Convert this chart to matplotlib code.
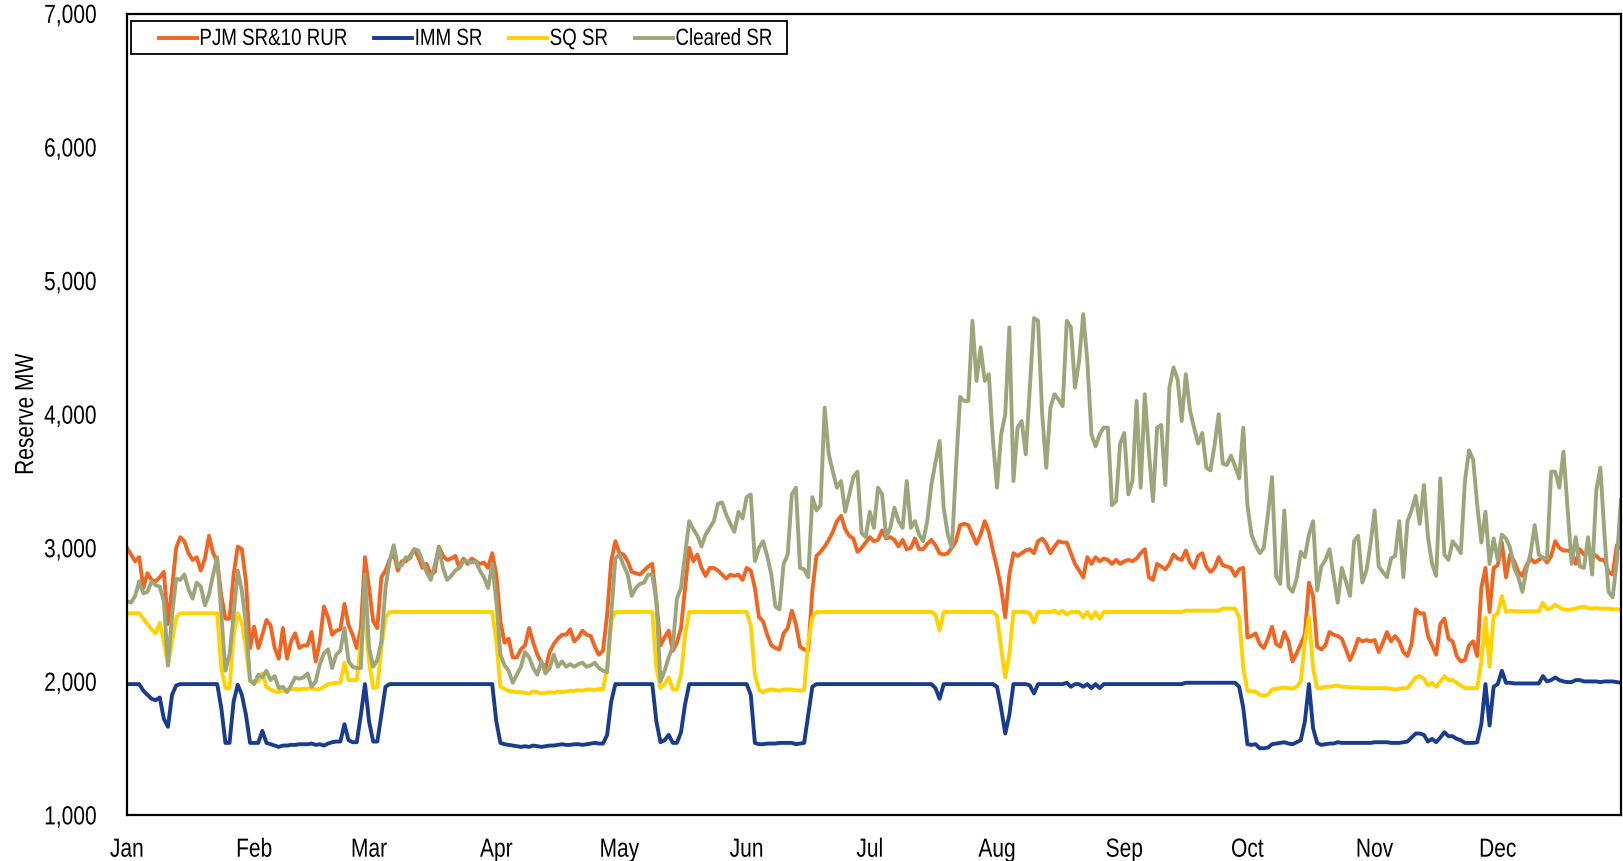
import numpy as np
import matplotlib
matplotlib.use("Agg")
import matplotlib.pyplot as plt
from matplotlib.patheffects import AbstractPathEffect
from matplotlib.transforms import Affine2D
from matplotlib.patches import Rectangle

plt.rcParams["font.family"] = ["Liberation Sans", "DejaVu Sans"]

# daily values, Jan 1 .. Dec 31 (one row per month)
pjm_sr_10_rur = [
    3000, 2950, 2900, 2930, 2700, 2810, 2760, 2750, 2780, 2820, 2430, 2700, 3000, 3080, 3050, 2960, 2910, 2930, 2830, 2920, 3090, 2960, 2900, 2640, 2470, 2470, 2800, 3010, 2990, 2750, 2250,
    2410, 2250, 2350, 2460, 2420, 2250, 2170, 2400, 2170, 2300, 2360, 2250, 2270, 2270, 2370, 2150, 2300, 2560, 2480, 2350, 2380, 2390, 2580, 2420, 2350, 2250, 2400, 2930,
    2700, 2450, 2400, 2780, 2830, 2910, 2960, 2830, 2900, 2900, 2940, 2990, 2930, 2850, 2880, 2800, 2820, 3010, 2940, 2910, 2920, 2940, 2850, 2920, 2880, 2920, 2900, 2880, 2890, 2850, 2960,
    2800, 2450, 2290, 2320, 2180, 2180, 2240, 2270, 2400, 2290, 2200, 2140, 2100, 2220, 2280, 2320, 2350, 2350, 2390, 2300, 2330, 2380, 2350, 2340, 2260, 2200, 2230, 2500, 2900, 3050,
    2960, 2950, 2900, 2820, 2810, 2800, 2830, 2860, 2880, 2600, 2270, 2330, 2380, 2230, 2290, 2400, 2700, 3000, 2900, 2950, 2850, 2790, 2850, 2850, 2830, 2800, 2770, 2800, 2790, 2800, 2760,
    2850, 2830, 2700, 2480, 2450, 2350, 2270, 2250, 2240, 2360, 2400, 2530, 2430, 2260, 2240, 2230, 2680, 2940, 2970, 3010, 3060, 3120, 3200, 3240, 3140, 3090, 3070, 2970, 3000, 3040,
    3080, 3050, 3060, 3130, 3070, 3080, 3060, 3010, 3060, 2990, 3000, 3070, 2990, 2990, 3030, 3060, 3020, 2960, 2950, 2960, 3000, 3050, 3170, 3180, 3170, 3100, 3030, 3100, 3200, 3120, 2980,
    2850, 2700, 2480, 2800, 2960, 2940, 2960, 2980, 2990, 2960, 3050, 3070, 3030, 2960, 3010, 3050, 3040, 3040, 2960, 2880, 2830, 2780, 2930, 2880, 2930, 2900, 2920, 2910, 2880, 2910, 2880,
    2900, 2910, 2900, 2920, 2960, 2990, 2780, 2760, 2880, 2860, 2840, 2880, 2950, 2920, 2910, 2980, 2890, 2850, 2940, 2960, 2860, 2820, 2850, 2930, 2870, 2860, 2850, 2790, 2840, 2850,
    2330, 2340, 2360, 2280, 2250, 2320, 2410, 2280, 2260, 2370, 2300, 2150, 2210, 2280, 2350, 2740, 2640, 2260, 2240, 2270, 2370, 2350, 2340, 2320, 2240, 2160, 2230, 2320, 2300, 2310, 2300,
    2310, 2220, 2290, 2370, 2300, 2340, 2300, 2220, 2190, 2280, 2540, 2510, 2510, 2340, 2270, 2200, 2430, 2470, 2320, 2300, 2190, 2150, 2160, 2270, 2300, 2190, 2700, 2850, 2520, 2850,
    2870, 3040, 2780, 2950, 2900, 2820, 2790, 2870, 2920, 2890, 2910, 2930, 2890, 2940, 3050, 3000, 2980, 2980, 2970, 2880, 2990, 2950, 2970, 2960, 2940, 2910, 2910, 2820, 2800, 3020, 3000,
]

imm_sr = [
    1980, 1980, 1980, 1980, 1930, 1900, 1870, 1860, 1880, 1720, 1660, 1900, 1970, 1980, 1980, 1980, 1980, 1980, 1980, 1980, 1980, 1980, 1980, 1800, 1540, 1540, 1850, 1975, 1900, 1750, 1540,
    1540, 1540, 1630, 1540, 1530, 1520, 1510, 1520, 1520, 1525, 1525, 1530, 1530, 1530, 1535, 1525, 1530, 1520, 1535, 1545, 1550, 1550, 1680, 1560, 1545, 1545, 1750, 1980,
    1700, 1550, 1550, 1750, 1960, 1980, 1980, 1980, 1980, 1980, 1980, 1980, 1980, 1980, 1980, 1980, 1980, 1980, 1980, 1980, 1980, 1980, 1980, 1980, 1980, 1980, 1980, 1980, 1980, 1980, 1980,
    1700, 1540, 1530, 1525, 1520, 1515, 1510, 1515, 1510, 1520, 1515, 1510, 1515, 1520, 1520, 1525, 1530, 1525, 1525, 1530, 1530, 1525, 1530, 1535, 1540, 1535, 1535, 1600, 1850, 1980,
    1980, 1980, 1980, 1980, 1980, 1980, 1980, 1980, 1980, 1700, 1545, 1560, 1600, 1540, 1540, 1620, 1830, 1980, 1980, 1980, 1980, 1980, 1980, 1980, 1980, 1980, 1980, 1980, 1980, 1980, 1980,
    1980, 1900, 1540, 1530, 1530, 1535, 1535, 1535, 1540, 1540, 1540, 1540, 1530, 1535, 1540, 1750, 1960, 1980, 1980, 1980, 1980, 1980, 1980, 1980, 1980, 1980, 1980, 1980, 1980, 1980,
    1980, 1980, 1980, 1980, 1980, 1980, 1980, 1980, 1980, 1980, 1980, 1980, 1980, 1980, 1980, 1980, 1950, 1870, 1980, 1980, 1980, 1980, 1980, 1980, 1980, 1980, 1980, 1980, 1980, 1980, 1980,
    1960, 1800, 1610, 1750, 1980, 1980, 1980, 1980, 1970, 1910, 1980, 1980, 1980, 1980, 1980, 1980, 1980, 1990, 1960, 1980, 1980, 1960, 1980, 1950, 1980, 1950, 1980, 1980, 1980, 1980, 1980,
    1980, 1980, 1980, 1980, 1980, 1980, 1980, 1980, 1980, 1980, 1980, 1980, 1980, 1980, 1980, 1990, 1990, 1990, 1990, 1990, 1990, 1990, 1990, 1990, 1990, 1990, 1990, 1990, 1960, 1800,
    1530, 1525, 1530, 1500, 1500, 1505, 1530, 1535, 1540, 1545, 1535, 1530, 1545, 1560, 1700, 1980, 1650, 1540, 1525, 1530, 1535, 1535, 1545, 1540, 1540, 1540, 1540, 1540, 1540, 1540, 1540,
    1545, 1545, 1545, 1545, 1540, 1540, 1540, 1545, 1550, 1580, 1610, 1610, 1600, 1550, 1570, 1545, 1580, 1620, 1590, 1590, 1570, 1560, 1540, 1540, 1540, 1545, 1680, 1980, 1670, 1960,
    1980, 2080, 1990, 1990, 1985, 1985, 1985, 1985, 1985, 1985, 1985, 2040, 2000, 2010, 2030, 2010, 2000, 1995, 1995, 2010, 2010, 2000, 2000, 2000, 2000, 1995, 2000, 2000, 2000, 1995, 1990,
]

sq_sr = [
    2510, 2510, 2510, 2510, 2470, 2430, 2390, 2360, 2440, 2300, 2120, 2300, 2480, 2510, 2510, 2510, 2510, 2510, 2510, 2510, 2510, 2510, 2510, 2100, 1950, 1950, 2350, 2510, 2440, 2250, 2000,
    2000, 2000, 2060, 1960, 1940, 1925, 1920, 1930, 1935, 1940, 1945, 1940, 1945, 1945, 1950, 1940, 1945, 1960, 1980, 1985, 1990, 1990, 2140, 2010, 2010, 2010, 2300, 2510,
    2150, 1950, 1960, 2250, 2480, 2520, 2520, 2520, 2520, 2520, 2520, 2520, 2520, 2520, 2520, 2520, 2520, 2520, 2520, 2520, 2520, 2520, 2520, 2520, 2520, 2520, 2520, 2520, 2520, 2520, 2520,
    2300, 1960, 1945, 1930, 1925, 1920, 1920, 1915, 1910, 1925, 1920, 1910, 1915, 1920, 1915, 1925, 1920, 1925, 1930, 1930, 1935, 1930, 1940, 1940, 1935, 1945, 1940, 2100, 2450, 2520,
    2520, 2520, 2520, 2520, 2520, 2520, 2520, 2520, 2520, 2100, 1950, 1980, 2030, 1940, 1940, 2050, 2350, 2520, 2520, 2520, 2520, 2520, 2520, 2520, 2520, 2520, 2520, 2520, 2520, 2520, 2520,
    2520, 2420, 2050, 1940, 1920, 1935, 1940, 1935, 1930, 1940, 1940, 1940, 1935, 1930, 1935, 2300, 2480, 2520, 2520, 2520, 2520, 2520, 2520, 2520, 2520, 2520, 2520, 2520, 2520, 2520,
    2520, 2520, 2520, 2520, 2520, 2520, 2520, 2520, 2520, 2520, 2520, 2520, 2520, 2520, 2520, 2520, 2500, 2380, 2520, 2520, 2520, 2520, 2520, 2520, 2520, 2520, 2520, 2520, 2520, 2520, 2520,
    2490, 2250, 2030, 2200, 2520, 2520, 2520, 2520, 2510, 2440, 2520, 2520, 2520, 2520, 2530, 2510, 2530, 2500, 2520, 2520, 2520, 2480, 2520, 2470, 2520, 2470, 2520, 2520, 2520, 2520, 2520,
    2520, 2520, 2520, 2520, 2520, 2520, 2520, 2520, 2520, 2520, 2520, 2520, 2520, 2520, 2520, 2530, 2530, 2530, 2530, 2530, 2530, 2530, 2530, 2530, 2545, 2545, 2545, 2545, 2480, 2100,
    1930, 1925, 1925, 1900, 1895, 1900, 1940, 1945, 1950, 1955, 1950, 1945, 1960, 2000, 2300, 2480, 2100, 1950, 1950, 1960, 1960, 1965, 1970, 1960, 1960, 1955, 1955, 1955, 1950, 1950, 1950,
    1950, 1950, 1950, 1950, 1945, 1940, 1945, 1950, 1950, 1990, 2030, 2040, 2020, 1970, 1990, 1960, 2000, 2040, 2010, 2010, 1990, 1970, 1950, 1950, 1950, 1950, 2150, 2480, 2110, 2490,
    2510, 2640, 2520, 2530, 2525, 2525, 2525, 2525, 2525, 2525, 2525, 2590, 2540, 2550, 2575, 2555, 2540, 2535, 2540, 2545, 2555, 2560, 2550, 2545, 2550, 2545, 2545, 2545, 2540, 2540, 2535,
]

cleared_sr = [
    2600, 2590, 2640, 2750, 2660, 2670, 2750, 2720, 2710, 2600, 2120, 2500, 2770, 2760, 2800, 2690, 2620, 2740, 2710, 2570, 2650, 2800, 2930, 2500, 2080, 2200, 2500, 2830, 2680, 2430, 2010,
    1980, 2050, 2030, 2080, 2010, 2040, 1950, 1960, 1920, 1970, 2030, 2020, 2030, 2060, 1960, 2000, 2130, 2210, 2240, 2100, 2200, 2230, 2400, 2150, 2110, 2100, 2100, 2800,
    2250, 2110, 2160, 2300, 2700, 2900, 3020, 2860, 2870, 2930, 2920, 2990, 2980, 2900, 2820, 2760, 2870, 3000, 2850, 2760, 2790, 2830, 2850, 2900, 2900, 2890, 2900, 2830, 2780, 2700, 2880,
    2600, 2200, 2120, 2080, 1990, 2050, 2110, 2220, 2180, 2100, 2050, 2150, 2060, 2100, 2200, 2110, 2150, 2110, 2130, 2110, 2130, 2140, 2110, 2120, 2140, 2100, 2080, 2070, 2500, 2920,
    2950, 2870, 2800, 2640, 2700, 2730, 2740, 2800, 2800, 2600, 2000, 2080, 2180, 2260, 2620, 2700, 2950, 3200, 3140, 3090, 3010, 3100, 3150, 3200, 3330, 3340, 3250, 3180, 3120, 3270, 3220,
    3380, 3400, 2900, 3000, 3050, 2940, 2800, 2560, 2540, 2880, 2950, 3400, 3450, 2850, 2840, 2780, 3380, 3280, 3320, 4050, 3700, 3570, 3450, 3500, 3270, 3400, 3530, 3570, 3110, 3080,
    3270, 3150, 3450, 3400, 3080, 3150, 3300, 3200, 3150, 3500, 3150, 3200, 3100, 3050, 3200, 3470, 3640, 3800, 3300, 3100, 3000, 3600, 4130, 4100, 4100, 4700, 4250, 4500, 4250, 4300, 3800,
    3450, 3850, 4000, 4650, 3500, 3900, 3950, 3700, 4200, 4720, 4700, 4000, 3600, 4050, 4150, 4110, 4060, 4700, 4650, 4200, 4400, 4750, 4400, 3850, 3760, 3850, 3900, 3900, 3320, 3350, 3780,
    3860, 3400, 3500, 4100, 3450, 4150, 3720, 3350, 3900, 3920, 3470, 4200, 4350, 4260, 3950, 4300, 4030, 3900, 3780, 3860, 3600, 3580, 3770, 4000, 3630, 3620, 3690, 3610, 3520, 3900,
    3320, 3100, 3020, 2960, 3000, 3250, 3530, 2790, 2730, 3280, 2710, 2670, 2770, 2970, 2930, 3100, 3200, 2680, 2860, 2910, 2990, 2790, 2590, 2850, 2750, 2640, 3050, 3090, 2740, 2830, 3030,
    3280, 2860, 2820, 2780, 2920, 2940, 3200, 2780, 3200, 3280, 3390, 3180, 3470, 3080, 2880, 2790, 3520, 2950, 2910, 3050, 3010, 2960, 3500, 3730, 3660, 3320, 3040, 3270, 2880, 3070,
    2910, 3100, 3070, 3000, 2850, 2780, 2670, 2840, 2960, 3170, 2950, 2920, 2920, 3570, 3570, 3450, 3720, 3300, 2880, 3080, 2860, 2850, 3080, 2800, 3430, 3600, 3100, 2670, 2630, 2900, 3360,
]

months = ["Jan", "Feb", "Mar", "Apr", "May", "Jun", "Jul", "Aug", "Sep", "Oct", "Nov", "Dec"]
month_start = [0, 31, 59, 90, 120, 151, 181, 212, 243, 273, 304, 334]


class Tall(AbstractPathEffect):
    # stretch glyphs vertically so a normal-width font reads like a narrow one
    def __init__(self, sy=1.25, dy=0.0):
        super().__init__()
        self.sy = sy
        self.dy = dy

    def draw_path(self, renderer, gc, tpath, affine, rgbFace=None):
        t = Affine2D().scale(1, self.sy).translate(0, self.dy) + affine
        renderer.draw_path(gc, tpath, t, rgbFace)


SY = 1.25

fig = plt.figure(figsize=(16.23, 8.61), dpi=100)
ax = fig.add_axes([0.0782, 0.0534, 0.9205, 0.9309])

lw = 2.8
ax.plot(np.arange(len(pjm_sr_10_rur)), pjm_sr_10_rur, color="#F16522", lw=lw, label="PJM SR&10 RUR")
ax.plot(np.arange(len(imm_sr)), imm_sr, color="#1A3C8E", lw=lw, label="IMM SR")
ax.plot(np.arange(len(sq_sr)), sq_sr, color="#FFD200", lw=lw, label="SQ SR")
ax.plot(np.arange(len(cleared_sr)), cleared_sr, color="#9DA67A", lw=lw, label="Cleared SR")

ax.set_xlim(0, 364)
ax.set_ylim(1000, 7000)
ax.set_yticks(range(1000, 7001, 1000))
ax.yaxis.set_major_formatter(matplotlib.ticker.FuncFormatter(lambda v, p: f"{v:,.0f}"))
ax.set_xticks(month_start)
ax.set_xticklabels(months)
ax.tick_params(axis="both", length=0, labelsize=15.1)
ax.tick_params(axis="y", pad=21.6)
ax.tick_params(axis="x", pad=19.2)
ax.set_ylabel("Reserve MW", fontsize=15.1, labelpad=5)

for lab in ax.get_yticklabels():
    lab.set_path_effects([Tall(SY, -(SY - 1) * 71.6 / 2)])
for lab in ax.get_xticklabels():
    lab.set_path_effects([Tall(SY)])
ax.yaxis.label.set_path_effects([Tall(SY)])

for s in ax.spines.values():
    s.set_linewidth(1.6)
    s.set_color("black")

# legend box (frame drawn separately so the side padding can differ from the top)
ax.add_patch(Rectangle((131, 861 - 54), 656, 33, transform=None, facecolor="white",
                       edgecolor="black", linewidth=1.3, zorder=4, clip_on=False))
leg = ax.legend(loc="upper left", bbox_to_anchor=(0.0214, 0.9772), borderaxespad=0,
                ncol=4, fontsize=13.5, frameon=False, borderpad=0,
                handlelength=2.04, handletextpad=0.12, columnspacing=1.43)
for t in leg.get_texts():
    t.set_path_effects([Tall(SY)])

fig.savefig("out.png", dpi=100)
